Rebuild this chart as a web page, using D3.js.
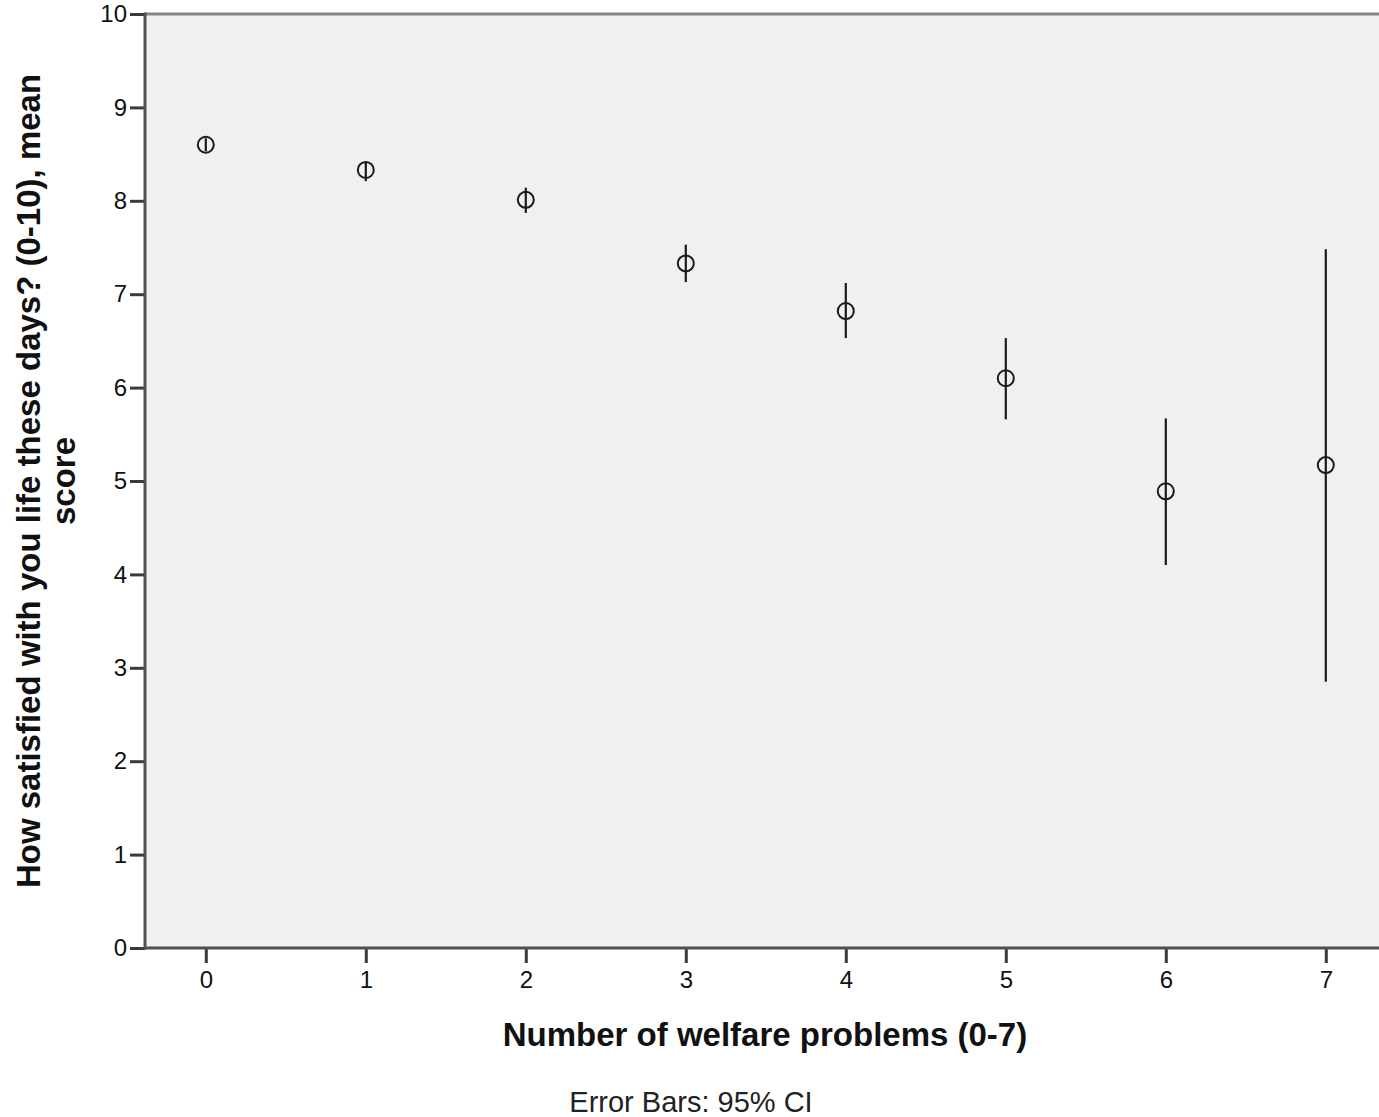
<!DOCTYPE html>
<html>
<head>
<meta charset="utf-8">
<script src="https://cdn.jsdelivr.net/npm/d3@7"></script>
<style>
  body { margin: 0; background: #fff; }
  svg { display: block; font-family: "Liberation Sans", Arial, sans-serif; }
</style>
</head>
<body>
<svg id="chart" width="1379" height="1117"></svg>
<script>
// Datos (media y IC 95%)
const categorias = [0, 1, 2, 3, 4, 5, 6, 7];
const medias = [8.60, 8.33, 8.01, 7.33, 6.82, 6.10, 4.89, 5.17];
const limiteInferior = [8.53, 8.21, 7.87, 7.13, 6.53, 5.66, 4.10, 2.85];
const limiteSuperior = [8.67, 8.42, 8.14, 7.53, 7.12, 6.53, 5.67, 7.48];
const ticksY = [0, 1, 2, 3, 4, 5, 6, 7, 8, 9, 10];

const tituloX = "Number of welfare problems (0-7)";
const tituloY = ["How satisfied with you life these days? (0-10), mean", "score"];
const nota = "Error Bars: 95% CI";

function dibujarGrafico() {
    const svg = d3.select("#chart");
    const margin = { top: 14, right: -6, bottom: 169, left: 145 };
    const width = 1379;
    const height = 1117;

    const puntos = categorias.map((c, i) => ({
        cat: c, media: medias[i], lo: limiteInferior[i], hi: limiteSuperior[i]
    }));

    const x = d3.scaleLinear()
        .domain([-0.38, 7.37])
        .range([margin.left, width - margin.right]);

    const y = d3.scaleLinear()
        .domain([0, 10])
        .range([height - margin.bottom, margin.top]);

    // fondo del area de trazado
    svg.append("rect")
        .attr("x", x.range()[0])
        .attr("y", y(10))
        .attr("width", x.range()[1] - x.range()[0])
        .attr("height", y(0) - y(10))
        .attr("fill", "#f0f0f0");

    // borde superior
    svg.append("line")
        .attr("x1", x.range()[0]).attr("x2", x.range()[1])
        .attr("y1", y(10)).attr("y2", y(10))
        .attr("stroke", "#858585")
        .attr("stroke-width", 3);

    const xAxis = g => g
        .attr("transform", `translate(0,${y(0)})`)
        .call(d3.axisBottom(x).tickValues(categorias).tickSize(15).tickPadding(8).tickFormat(d3.format("d")));

    const yAxis = g => g
        .attr("transform", `translate(${x.range()[0]},0)`)
        .call(d3.axisLeft(y).tickValues(ticksY).tickSize(15).tickPadding(3).tickFormat(d3.format("d")));

    [svg.append("g").call(xAxis), svg.append("g").call(yAxis)].forEach(g => {
        g.attr("font-size", 24);
        g.select(".domain").remove();
        g.selectAll(".tick line").attr("stroke", "#3a3a3a").attr("stroke-width", 3);
        g.selectAll(".tick text")
            .attr("fill", "#111")
            .style("font-size", "24px")
            .style("font-family", "'Liberation Sans', Arial, sans-serif");
    });

    // lineas de los ejes
    svg.append("line")
        .attr("x1", x.range()[0]).attr("x2", x.range()[0])
        .attr("y1", y(10) - 1.5).attr("y2", y(0) + 1.5)
        .attr("stroke", "#505050")
        .attr("stroke-width", 3);
    svg.append("line")
        .attr("x1", x.range()[0]).attr("x2", x.range()[1])
        .attr("y1", y(0)).attr("y2", y(0))
        .attr("stroke", "#505050")
        .attr("stroke-width", 3);

    // barras de error
    svg.append("g")
        .selectAll("line")
        .data(puntos)
        .join("line")
        .attr("x1", d => x(d.cat))
        .attr("x2", d => x(d.cat))
        .attr("y1", d => y(d.hi))
        .attr("y2", d => y(d.lo))
        .attr("stroke", "#1a1a1a")
        .attr("stroke-width", 2.2);

    // medias
    svg.append("g")
        .selectAll("circle")
        .data(puntos)
        .join("circle")
        .attr("cx", d => x(d.cat))
        .attr("cy", d => y(d.media))
        .attr("r", 8)
        .attr("fill", "none")
        .attr("stroke", "#1a1a1a")
        .attr("stroke-width", 2);

    // titulos
    svg.append("text")
        .attr("x", 765)
        .attr("y", 1046)
        .attr("text-anchor", "middle")
        .style("font-size", "33px")
        .style("font-weight", "bold")
        .attr("fill", "#111")
        .text(tituloX);

    const ty = svg.append("text")
        .attr("transform", `translate(40,${(y(0) + y(10)) / 2}) rotate(-90)`)
        .attr("text-anchor", "middle")
        .style("font-size", "33px")
        .style("font-weight", "bold")
        .attr("fill", "#111");
    tituloY.forEach((t, i) => {
        ty.append("tspan").attr("x", 0).attr("dy", i === 0 ? 0 : 35).text(t);
    });

    svg.append("text")
        .attr("x", 691)
        .attr("y", 1112)
        .attr("text-anchor", "middle")
        .style("font-size", "29px")
        .attr("fill", "#222")
        .text(nota);
}

document.addEventListener('DOMContentLoaded', dibujarGrafico);
</script>
</body>
</html>
